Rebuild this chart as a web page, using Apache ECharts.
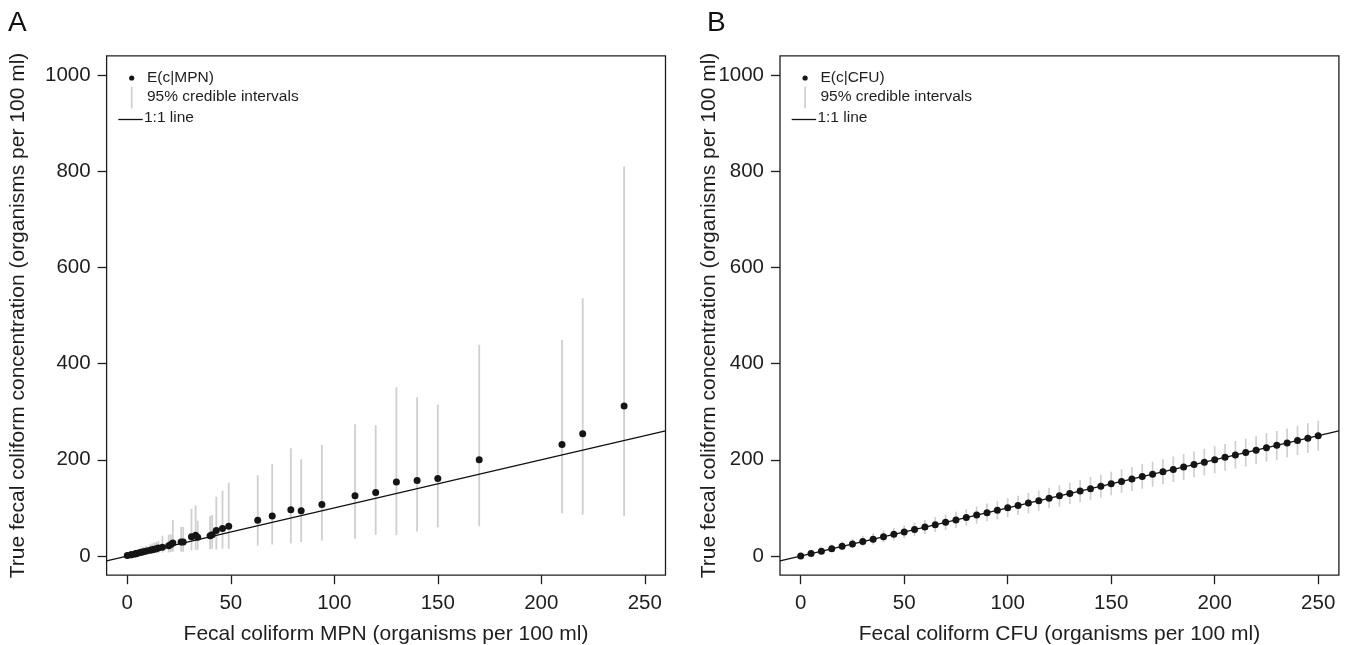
<!DOCTYPE html>
<html>
<head>
<meta charset="utf-8">
<script src="https://cdn.jsdelivr.net/npm/echarts@6/dist/echarts.min.js"></script>
<style>
html,body{margin:0;padding:0;background:#fff;}
#chart{width:1347px;height:645px;}
</style>
</head>
<body>
<div id="chart"></div>
<script>
// ---------- DATA ----------
// Panel A: MPN values, posterior mean E(c|MPN) and 95% credible interval
const mpnX    = [0, 1.8, 2, 3.7, 4, 4.5, 5.8, 6.8, 7.8, 9.3, 11, 12, 13, 14, 15, 17, 20, 21, 22, 26, 27, 31, 33, 34, 40, 41, 43, 46, 49, 63, 70, 79, 84, 94, 110, 120, 130, 140, 150, 170, 210, 220, 240];
const mpnMean = [1, 2.3, 2.6, 4.3, 4.7, 5.2, 6.6, 7.6, 8.8, 10.3, 12, 13, 14.2, 15.2, 16.3, 18, 21, 24, 27, 29, 29, 40, 43, 39, 42, 44, 53, 57, 62, 74, 83, 96, 94, 107, 125, 132, 154, 157, 161, 200, 232, 254, 312];
const mpnLo   = [0, 0.3, 0.4, 1, 1.1, 1.3, 1.9, 2.4, 2.9, 3.6, 4.4, 4.9, 5.4, 5.9, 6.3, 7.4, 7, 8, 9, 9, 9, 12, 13, 13, 14, 15, 13, 15, 15, 21, 24, 26, 29, 32, 36, 44, 43, 51, 59, 62, 89, 86, 83];
const mpnHi   = [4, 7, 7.5, 11, 12, 13, 15, 17, 19, 21, 24, 26, 28, 29, 31, 42, 44, 45, 75, 61, 60, 98, 105, 73, 83, 85, 123, 136, 152, 168, 191, 224, 201, 231, 274, 272, 351, 330, 315, 439, 449, 536, 810];

// Panel B: CFU values, posterior mean E(c|CFU) and 95% credible interval
const cfuX    = [0,5,10,15,20,25,30,35,40,45,50,55,60,65,70,75,80,85,90,95,100,105,110,115,120,125,130,135,140,145,150,155,160,165,170,175,180,185,190,195,200,205,210,215,220,225,230,235,240,245,250];
const cfuMean = [0,5,10,15,20,25,30,35,40,45,50,55,60,65,70,75,80,85,90,95,100,105,110,115,120,125,130,135,140,145,150,155,160,165,170,175,180,185,190,195,200,205,210,215,220,225,230,235,240,245,250];
const cfuLo   = [0,1.6,4.5,8,12,16,20,24,28,32,37,41,45,50,54,58,63,67,72,76,81,85,89,94,99,103,108,112,117,121,126,131,135,140,144,149,154,158,163,168,172,177,182,186,191,196,200,205,210,214,219];
const cfuHi   = [4,10,17,24,30,36,42,47,53,58,64,69,75,81,86,92,97,103,109,114,120,125,131,136,142,147,153,158,164,169,175,180,185,191,196,201,207,212,217,223,228,233,239,244,249,255,260,265,271,276,281];

// 1:1 reference line end points (data units)
const lineEnds = [-10, 260];

// Axis ticks
const xTicks = [0, 50, 100, 150, 200, 250];
const yTicks = [0, 200, 400, 600, 800, 1000];

// Texts
const panelLabels = ['A', 'B'];
const xTitles = ['Fecal coliform MPN (organisms per 100 ml)', 'Fecal coliform CFU (organisms per 100 ml)'];
const yTitle = 'True fecal coliform concentration (organisms per 100 ml)';
const legendMean = ['E(c|MPN)', 'E(c|CFU)'];
const legendCI = '95% credible intervals';
const legendLine = '1:1 line';

// ---------- LAYOUT ----------
const FONT = '"Liberation Sans", Arial, Helvetica, sans-serif';
const INK = '#1e1e1e';
const DOT = '#151515';
const GREY = '#cfcfcf';
const grids = [
  {left: 106.6, top: 55.8, width: 558.9, height: 519.4},
  {left: 780.0, top: 55.8, width: 558.9, height: 519.4}
];
const yNameGap = [78, 60];

function zip3(a, b, c) { return a.map((v, i) => [v, b[i], c[i]]); }
function zip2(a, b) { return a.map((v, i) => [v, b[i]]); }

function errRender(color, width) {
  return function (params, api) {
    const p1 = api.coord([api.value(0), api.value(1)]);
    const p2 = api.coord([api.value(0), api.value(2)]);
    return {
      type: 'line',
      shape: {x1: p1[0], y1: p1[1], x2: p2[0], y2: p2[1]},
      style: {stroke: color, lineWidth: width}
    };
  };
}

const xAxes = [], yAxes = [], series = [], graphics = [];
[0, 1].forEach(i => {
  xAxes.push({
    gridIndex: i, type: 'value', min: -10, max: 260,
    axisLine: {show: false, onZero: false},
    splitLine: {show: false},
    axisTick: {show: true, inside: false, length: 9, customValues: xTicks, lineStyle: {color: INK, width: 1.3}},
    axisLabel: {customValues: xTicks, fontSize: 20.5, fontFamily: FONT, color: INK, margin: 18,
      formatter: v => String(v)},
    name: xTitles[i], nameLocation: 'middle', nameGap: 49, nameMoveOverlap: false,
    nameTextStyle: {fontSize: 21, fontFamily: FONT, color: INK}
  });
  yAxes.push({
    gridIndex: i, type: 'value', min: -40, max: 1040,
    axisLine: {show: false, onZero: false},
    splitLine: {show: false},
    axisTick: {show: true, inside: false, length: 9, customValues: yTicks, lineStyle: {color: INK, width: 1.3}},
    axisLabel: {customValues: yTicks, fontSize: 20.5, fontFamily: FONT, color: INK, margin: 16,
      formatter: v => String(v)},
    name: yTitle, nameLocation: 'middle', nameRotate: 90, nameGap: yNameGap[i], nameMoveOverlap: false,
    nameTextStyle: {fontSize: 21, fontFamily: FONT, color: INK}
  });
});

// Panel A series
series.push({
  type: 'custom', xAxisIndex: 0, yAxisIndex: 0, clip: true,
  renderItem: errRender(GREY, 1.8), data: zip3(mpnX, mpnLo, mpnHi), z: 1
});
series.push({
  type: 'line', xAxisIndex: 0, yAxisIndex: 0, clip: true, symbol: 'none',
  lineStyle: {color: '#111', width: 1.3}, data: zip2(lineEnds, lineEnds), z: 2
});
series.push({
  type: 'scatter', xAxisIndex: 0, yAxisIndex: 0, symbol: 'circle', symbolSize: 7,
  itemStyle: {color: DOT, opacity: 1}, data: zip2(mpnX, mpnMean), z: 3
});
// Panel B series
series.push({
  type: 'custom', xAxisIndex: 1, yAxisIndex: 1, clip: true,
  renderItem: errRender(GREY, 1.7), data: zip3(cfuX, cfuLo, cfuHi), z: 1
});
series.push({
  type: 'line', xAxisIndex: 1, yAxisIndex: 1, clip: true, symbol: 'none',
  lineStyle: {color: '#111', width: 1.3}, data: zip2(lineEnds, lineEnds), z: 2
});
series.push({
  type: 'scatter', xAxisIndex: 1, yAxisIndex: 1, symbol: 'circle', symbolSize: 7,
  itemStyle: {color: DOT, opacity: 1}, data: zip2(cfuX, cfuMean), z: 3
});

// Legends and panel labels
const panelLabelX = [8, 707];
[0, 1].forEach(i => {
  const ox = grids[i].left - grids[0].left;
  graphics.push({type: 'text', left: panelLabelX[i], top: 9,
    style: {text: panelLabels[i], font: '28px ' + FONT, fill: '#111'}});
  graphics.push({type: 'circle', shape: {cx: 131.7 + ox, cy: 78, r: 2.6}, style: {fill: DOT}});
  graphics.push({type: 'text', x: 147 + ox, y: 78,
    style: {text: legendMean[i], font: '15.5px ' + FONT, fill: INK, verticalAlign: 'middle'}});
  graphics.push({type: 'line', shape: {x1: 131.7 + ox, y1: 86.7, x2: 131.7 + ox, y2: 108.3},
    style: {stroke: GREY, lineWidth: 1.7}});
  graphics.push({type: 'text', x: 147 + ox, y: 97,
    style: {text: legendCI, font: '15.5px ' + FONT, fill: INK, verticalAlign: 'middle'}});
  graphics.push({type: 'line', shape: {x1: 118.3 + ox, y1: 119.5, x2: 142.7 + ox, y2: 119.5},
    style: {stroke: '#111', lineWidth: 1.3}});
  graphics.push({type: 'text', x: 144 + ox, y: 118,
    style: {text: legendLine, font: '15.5px ' + FONT, fill: INK, verticalAlign: 'middle'}});
});

const chart = echarts.init(document.getElementById('chart'), null, {renderer: 'canvas'});
chart.setOption({
  animation: false,
  backgroundColor: '#fff',
  grid: grids.map(g => Object.assign({show: true, borderColor: INK, borderWidth: 1.3,
    backgroundColor: 'transparent', containLabel: false, outerBoundsMode: 'none'}, g)),
  xAxis: xAxes,
  yAxis: yAxes,
  series: series,
  graphic: graphics
});
</script>
</body>
</html>
